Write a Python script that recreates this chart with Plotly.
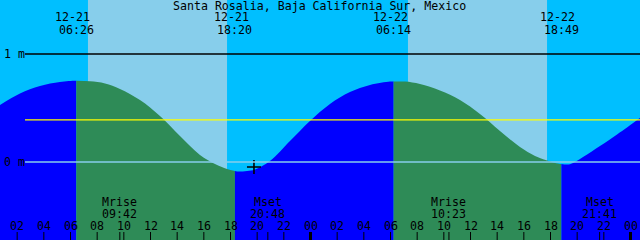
import numpy as np
import plotly.graph_objects as go

# ---- data (hours since 12-21 00:00, metres) ----
tide_hours = [0.71, 2.21, 3.71, 5.21, 6.34, 7.46, 8.59, 9.71, 11.21, 12.71, 14.21, 15.71,
              16.84, 17.74, 18.49, 19.24, 19.84, 20.96, 22.46, 23.96, 25.46, 26.96, 28.46,
              29.96, 31.09, 32.21, 33.71, 35.21, 36.71, 38.21, 39.71, 40.84, 41.74, 42.71,
              43.46, 44.44, 45.71, 46.99, 47.74, 48.71]
tide_level = [0.528, 0.634, 0.704, 0.741, 0.752, 0.747, 0.727, 0.676, 0.574, 0.426, 0.241, 0.065,
              -0.019, -0.065, -0.088, -0.083, -0.069, 0.009, 0.194, 0.380, 0.537, 0.648, 0.713,
              0.745, 0.745, 0.722, 0.662, 0.574, 0.444, 0.287, 0.139, 0.056, 0.014, -0.019,
              -0.021, 0.046, 0.148, 0.255, 0.319, 0.407]

sun_dates = ["12-21", "12-21", "12-22", "12-22"]
sun_labels = ["06:26", "18:20", "06:14", "18:49"]
sun_hours = [6 + 26/60, 18 + 20/60, 24 + 6 + 14/60, 24 + 18 + 49/60]

sky_day_start = [7.31, 31.31]
sky_day_end = [17.74, 41.74]

moon_names = ["Mrise", "Mset", "Mrise", "Mset"]
moon_labels = ["09:42", "20:48", "10:23", "21:41"]
moon_hours = [9 + 42/60, 20 + 48/60, 24 + 10 + 23/60, 24 + 21 + 41/60]

tick_hours = list(range(2, 49, 2))
tick_labels = ["%02d" % (h % 24) for h in tick_hours]

now_hour = [19.76]
now_level = [-0.046]

msl_level = 0.39
title = "Santa Rosalia, Baja California Sur, Mexico"

# ---- styling / geometry ----
W, H = 640, 240
X0 = 0.7125
X1 = X0 + 48.0
Y0 = -78 / 108
Y1 = 1.5
NIGHT_SKY = "#00BFFF"
DAY_SKY = "#87CEEB"
DAY_WATER = "#2E8B57"
NIGHT_WATER = "#0000FF"
FONT = dict(family="DejaVu Sans Mono", size=11.6, color="black")

th = np.array(tide_hours)
tl = np.array(tide_level)

fig = go.Figure()

bounds = [X0] + sun_hours + [X1]
colors = [NIGHT_WATER, DAY_WATER, NIGHT_WATER, DAY_WATER, NIGHT_WATER]
for i in range(len(bounds) - 1):
    a, b = bounds[i], bounds[i + 1]
    mask = (th > a + 1e-6) & (th < b - 1e-6)
    xs = [a] + list(th[mask]) + [b]
    ys = [float(np.interp(a, th, tl))] + list(tl[mask]) + [float(np.interp(b, th, tl))]
    fig.add_trace(go.Scatter(x=[a, b], y=[Y0 - 0.1, Y0 - 0.1], mode="lines",
                             line=dict(width=0), hoverinfo="skip", showlegend=False))
    fig.add_trace(go.Scatter(x=xs, y=ys, mode="lines", line=dict(width=0, shape="spline", smoothing=1),
                             fill="tonexty", fillcolor=colors[i], hoverinfo="skip", showlegend=False))

fig.add_trace(go.Scatter(x=now_hour, y=now_level, mode="markers",
                         marker=dict(symbol="cross-thin", size=10, line=dict(color="black", width=1.6)),
                         showlegend=False))

shapes = []
for s, e in zip(sky_day_start, sky_day_end):
    shapes.append(dict(type="rect", xref="x", yref="paper", x0=s, x1=e, y0=0, y1=1,
                       fillcolor=DAY_SKY, line=dict(width=0), layer="below"))
lx0 = X0 + 25 / 13.333
shapes.append(dict(type="line", xref="x", yref="y", x0=lx0, x1=X1, y0=1, y1=1,
                   line=dict(color="black", width=1.3), layer="above"))
shapes.append(dict(type="line", xref="x", yref="y", x0=lx0, x1=X1, y0=msl_level, y1=msl_level,
                   line=dict(color="yellow", width=1.3), layer="above"))
shapes.append(dict(type="line", xref="x", yref="y", x0=lx0, x1=X1, y0=0, y1=0,
                   line=dict(color="#87CEEB", width=1.3), layer="above"))
for h in tick_hours:
    wdt = 3 if h % 24 == 0 else 1
    shapes.append(dict(type="line", xref="x", yref="paper", x0=h, x1=h, y0=0, y1=8 / H,
                       line=dict(color="black", width=wdt), layer="above"))
for h in moon_hours:
    shapes.append(dict(type="line", xref="x", yref="paper", x0=h, x1=h, y0=0, y1=8 / H,
                       line=dict(color="black", width=1), layer="above"))

ann = []
ann.append(dict(text=title, xref="paper", yref="paper", x=319.5 / W, y=1 - 6 / H,
                xanchor="center", yanchor="middle", showarrow=False, font=FONT))
ann.append(dict(text="1 m", xref="paper", yref="y", x=2 / W, y=1, xanchor="left",
                yanchor="middle", showarrow=False, font=FONT))
ann.append(dict(text="0 m", xref="paper", yref="y", x=2 / W, y=0, xanchor="left",
                yanchor="middle", showarrow=False, font=FONT))
for d, t, h in zip(sun_dates, sun_labels, sun_hours):
    ann.append(dict(text=d, xref="x", yref="paper", x=h, xshift=-3.5, y=1 - 17.5 / H,
                    xanchor="center", yanchor="middle", showarrow=False, font=FONT))
    ann.append(dict(text=t, xref="x", yref="paper", x=h, y=1 - 30 / H,
                    xanchor="center", yanchor="middle", showarrow=False, font=FONT))
for n, t, h in zip(moon_names, moon_labels, moon_hours):
    ann.append(dict(text=n, xref="x", yref="paper", x=h, y=(H - 201.5) / H,
                    xanchor="center", yanchor="middle", showarrow=False, font=FONT))
    ann.append(dict(text=t, xref="x", yref="paper", x=h, y=(H - 213.5) / H,
                    xanchor="center", yanchor="middle", showarrow=False, font=FONT))
for h, lab in zip(tick_hours, tick_labels):
    ann.append(dict(text=lab, xref="x", yref="paper", x=h, y=14 / H,
                    xanchor="center", yanchor="middle", showarrow=False, font=FONT))

fig.update_layout(
    width=W, height=H, autosize=False,
    margin=dict(l=0, r=0, t=0, b=0, pad=0),
    paper_bgcolor=NIGHT_SKY, plot_bgcolor=NIGHT_SKY,
    xaxis=dict(range=[X0, X1], visible=False, fixedrange=True),
    yaxis=dict(range=[Y0, Y1], visible=False, fixedrange=True),
    shapes=shapes, annotations=ann, showlegend=False,
)

fig.write_html("out.html", config={"displayModeBar": False})
